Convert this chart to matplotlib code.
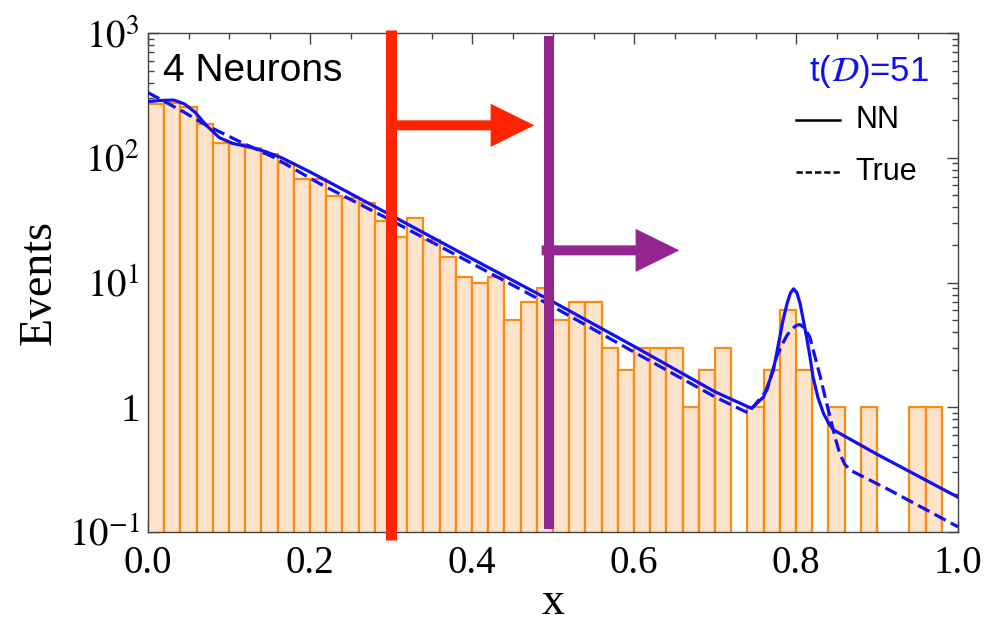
import matplotlib
matplotlib.use("Agg")
import matplotlib.pyplot as plt
from matplotlib.patches import FancyArrowPatch
from matplotlib.ticker import LogLocator, MultipleLocator, NullFormatter
import numpy as np

plt.rcParams['font.family'] = 'Liberation Serif'
plt.rcParams['mathtext.fontset'] = 'stix'

# histogram: 50 bins of width 0.02 on [0, 1]
bin_width = 0.02
counts = [269, 275, 255, 187, 132, 129, 120, 108, 91, 68,
          67, 49, 48, 43, 31, 23, 33, 22, 16, 11,
          10, 11, 5, 7, 9, 5, 7, 7, 3, 2,
          3, 3, 3, 1, 2, 3, 0, 1, 2, 6,
          2, 0, 1, 0, 1, 0, 0, 1, 1, 0]

# NN fit (solid)
nn_x = [0.0, 0.015, 0.032, 0.045, 0.058, 0.072, 0.088, 0.105, 0.126, 0.145, 0.165, 0.2,
        0.3, 0.4, 0.5, 0.6, 0.7, 0.745, 0.76, 0.772, 0.78, 0.784, 0.789, 0.793, 0.797,
        0.801, 0.805, 0.809, 0.813, 0.817, 0.821, 0.827, 0.834, 0.84, 0.846, 0.9, 1.0]
nn_y = [282, 288, 290, 270, 232, 182, 145, 130, 122, 112, 100, 77,
        34.6, 15.5, 7.0, 3.08, 1.33, 0.98, 1.21, 1.98, 3.66, 5.0, 6.8, 8.2, 8.9,
        8.3, 6.8, 5.0, 3.66, 2.6, 1.75, 1.2, 0.89, 0.75, 0.66, 0.42, 0.19]

# true distribution (dashed)
true_x = [0.0, 0.044, 0.072, 0.114, 0.155, 0.212, 0.3, 0.4, 0.5, 0.6, 0.7, 0.741,
          0.764, 0.776, 0.783, 0.789, 0.793, 0.797, 0.801, 0.805, 0.811, 0.817, 0.823,
          0.83, 0.836, 0.842, 0.848, 0.854, 0.86, 0.867, 0.916, 1.0]
true_y = [333, 233, 182, 134, 101, 62, 31.5, 14.2, 6.4, 2.77, 1.21, 0.9,
          1.37, 2.53, 3.2, 3.78, 4.1, 4.35, 4.55, 4.6, 4.3, 3.66, 2.6,
          1.75, 1.2, 0.84, 0.58, 0.425, 0.35, 0.313, 0.216, 0.11]

x_ticks = [0.0, 0.2, 0.4, 0.6, 0.8, 1.0]
x_ticklabels = ['0.0', '0.2', '0.4', '0.6', '0.8', '1.0']
y_ticks = [0.1, 1, 10, 100, 1000]
y_ticklabels = [r'$10^{-1}$', '1', r'$10^{1}$', r'$10^{2}$', r'$10^{3}$']

cut_red = 0.3
cut_purple = 0.495

fig = plt.figure(figsize=(9.9, 6.24), dpi=100)
ax = fig.add_axes([0.1495, 0.1474, 0.8182, 0.7997])

lefts = np.arange(len(counts)) * bin_width
for left, c in zip(lefts, counts):
    if c > 0:
        ax.bar(left, c, width=bin_width, align='edge', bottom=1e-3,
               color='#FDE3CA', edgecolor='#FF8A12', linewidth=1.6, zorder=2)

blue = '#0F10F5'
ax.plot(nn_x, nn_y, color=blue, lw=2.3, zorder=3, solid_joinstyle='round')
ax.plot(true_x, true_y, color=blue, lw=2.3, dashes=(4, 1.8), zorder=3)

# cut lines
xt = ax.get_xaxis_transform()
ax.plot([cut_red, cut_red], [-0.016, 1.006], transform=xt, color='#FF2400',
        lw=7.9, solid_capstyle='butt', clip_on=False, zorder=5)
ax.plot([cut_purple, cut_purple], [0.006, 0.994], transform=xt, color='#922590',
        lw=7.2, solid_capstyle='butt', clip_on=False, zorder=5)

for x0, x1, yv, col in [(0.307, 0.477, 182, '#FF2400'), (0.486, 0.656, 18.1, '#922590')]:
    arr = FancyArrowPatch((x0, yv), (x1, yv), transform=ax.transData,
                          arrowstyle='simple,head_length=31.5,head_width=31,tail_width=7.2',
                          mutation_scale=1, color=col, lw=0, shrinkA=0, shrinkB=0,
                          zorder=5)
    ax.add_patch(arr)

ax.set_yscale('log')
ax.set_xlim(0, 1)
ax.set_ylim(0.1, 1000)

ax.set_xticks(x_ticks)
ax.set_xticklabels(x_ticklabels)
ax.xaxis.set_minor_locator(MultipleLocator(0.05))
ax.set_yticks(y_ticks)
ax.set_yticklabels(y_ticklabels)
ax.yaxis.set_minor_locator(LogLocator(base=10, subs=range(2, 10)))
ax.yaxis.set_minor_formatter(NullFormatter())

ax.tick_params(which='both', direction='in', top=True, right=True, colors='#444444',
               labelcolor='black', labelsize=28)
ax.tick_params(axis='x', pad=9)
ax.tick_params(axis='y', pad=6)
ax.tick_params(which='major', length=8, width=1)
ax.tick_params(which='minor', length=4, width=1)
for s in ax.spines.values():
    s.set_color('#444444')
    s.set_linewidth(1)

ax.set_xlabel('x', fontsize=33, labelpad=0)
ax.set_ylabel('Events', fontsize=33, labelpad=6)

ax.text(0.018, 0.904, '4 Neurons', transform=ax.transAxes, family='Liberation Sans',
        fontsize=28, ha='left', va='baseline', zorder=6)
ax.text(0.964, 0.903, r't($\mathcal{D}$)=51', transform=ax.transAxes,
        family='Liberation Sans', fontsize=25, color=blue, ha='right', va='baseline',
        zorder=6)

# legend drawn by hand
ax.plot([0.8, 0.854], [0.8257, 0.8257], transform=ax.transAxes, color='black', lw=1.8)
ax.plot([0.8, 0.854], [0.7214, 0.7214], transform=ax.transAxes, color='black', lw=1.8,
        dashes=(2.5, 1.2))
ax.text(0.873, 0.8257, 'NN', transform=ax.transAxes, family='Liberation Sans',
        fontsize=22, va='center')
ax.text(0.873, 0.7214, 'True', transform=ax.transAxes, family='Liberation Sans',
        fontsize=22, va='center')

fig.savefig('out.png', dpi=100)
